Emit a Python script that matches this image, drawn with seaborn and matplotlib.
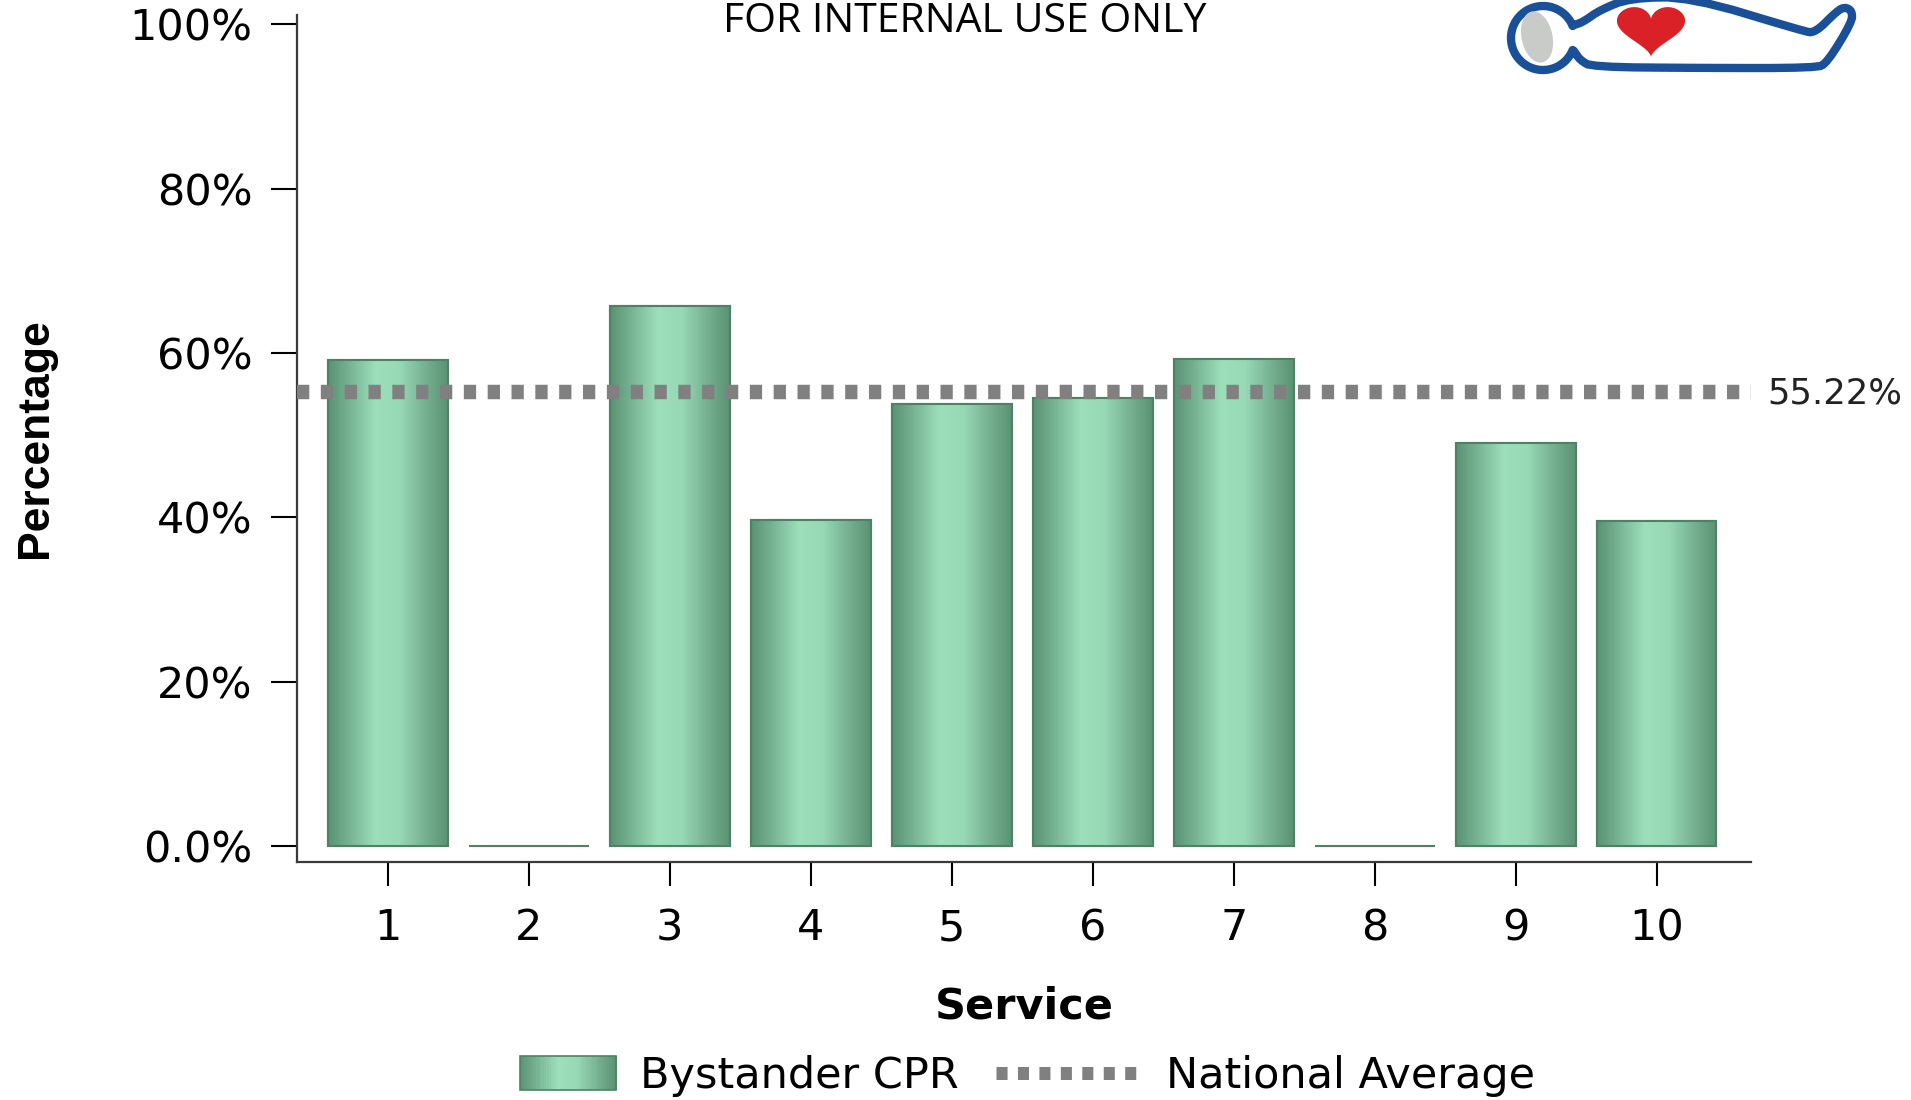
import numpy as np
import pandas as pd
import matplotlib
matplotlib.use("Agg")
import matplotlib.pyplot as plt
import seaborn as sns
from matplotlib.colors import LinearSegmentedColormap
from matplotlib.patches import Rectangle, Ellipse, PathPatch
from matplotlib.path import Path
from matplotlib.lines import Line2D
from matplotlib.legend_handler import HandlerBase

# ---------------- data ----------------
services = ["1", "2", "3", "4", "5", "6", "7", "8", "9", "10"]
bystander_cpr = [59.1, 0.0, 65.7, 39.7, 53.8, 54.5, 59.3, 0.0, 49.0, 39.6]
national_average = 55.22
national_label = "55.22%"
y_ticks = [0, 20, 40, 60, 80, 100]
y_tick_labels = ["0.0%", "20%", "40%", "60%", "80%", "100%"]
series_names = ["Bystander CPR", "National Average"]
x_title = "Service"
y_title = "Percentage"
banner = "FOR INTERNAL USE ONLY"

# ---------------- style ----------------
sns.set_theme(style="white")
plt.rcParams["font.family"] = ["DejaVu Sans"]
plt.rcParams["text.color"] = "black"

BAR_EDGE = "#4f8265"
BAR_MID = "#86c9a5"
LINE_GREY = "#808080"
grad_cmap = LinearSegmentedColormap.from_list(
    "bar_grad",
    [(0.0, "#5a9274"), (0.15, "#72ae8e"), (0.40, "#9ddfbb"),
     (0.60, "#97d8b5"), (0.85, "#70aa8b"), (1.0, "#5a9274")])

W, H = 1911, 1100
fig = plt.figure(figsize=(W / 100, H / 100), dpi=100)

# overlay for logo (decoration)
deco = fig.add_axes([0, 0, 1, 1], zorder=0)
deco.set_xlim(0, W)
deco.set_ylim(H, 0)
deco.axis("off")

ax = fig.add_axes([297 / W, 1 - 861.6 / H, (1751 - 297) / W, (861.6 - 14.6) / H], zorder=1)
ax.patch.set_alpha(0)

df = pd.DataFrame({"Service": services, "Percentage": bystander_cpr})
sns.barplot(data=df, x="Service", y="Percentage", color=BAR_MID, saturation=1,
            width=0.85, edgecolor=BAR_EDGE, linewidth=1.5, errorbar=None, ax=ax)

grad = np.linspace(0, 1, 256).reshape(1, -1)
for p in list(ax.patches):
    x0, y0 = p.get_x(), p.get_y()
    w, h = p.get_width(), p.get_height()
    if h <= 0:
        continue
    im = ax.imshow(grad, cmap=grad_cmap, extent=[x0, x0 + w, y0, y0 + h],
                   aspect="auto", origin="lower", interpolation="bicubic",
                   zorder=p.get_zorder() + 0.1)
    im.set_clip_path(p)
    ax.add_patch(Rectangle((x0, y0), w, h, fill=False, edgecolor=BAR_EDGE,
                           lw=1.5, zorder=p.get_zorder() + 0.2))

# national average line
LW = 10.4
ax.axhline(national_average, color=LINE_GREY, lw=LW, dashes=(0.85, 0.8),
           dash_capstyle="butt", zorder=5)
ax.text(1.011, national_average - 0.2, national_label,
        transform=ax.get_yaxis_transform(), ha="left", va="center",
        fontsize=25.5, color="#222222", clip_on=False)

ax.set_xlim(-0.645, 9.67)
ax.set_ylim(-1.92, 101.2)
ax.set_yticks(y_ticks)
ax.set_yticklabels(y_tick_labels)

for s in ["top", "right"]:
    ax.spines[s].set_visible(False)
for s in ["left", "bottom"]:
    ax.spines[s].set_color("#3a3a3a")
    ax.spines[s].set_linewidth(1.6)

ax.tick_params(axis="y", length=19, width=1.5, color="black", pad=13,
               labelsize=31, labelcolor="black", left=True, direction="out")
ax.tick_params(axis="x", length=17.5, width=1.5, color="black", pad=15.5,
               labelsize=31, labelcolor="black", bottom=True, direction="out")

ax.set_xlabel(x_title, fontsize=31, fontweight="bold", color="black")
ax.set_ylabel(y_title, fontsize=32, fontweight="bold", color="black",
              family=["Liberation Sans", "DejaVu Sans"])
ax.xaxis.set_label_coords(0.5, -0.146)
ax.yaxis.set_label_coords(-0.166, 0.5)


# legend
class GradPatchHandler(HandlerBase):
    def create_artists(self, legend, orig_handle, xdescent, ydescent, width,
                       height, fontsize, trans):
        pw = 2.25 * fontsize
        ph = 0.8 * fontsize
        x_start = -xdescent + width - pw
        y_start = -ydescent + (height - ph) / 2
        n = 40
        arts = []
        for i in range(n):
            c = grad_cmap((i + 0.5) / n)
            r = Rectangle((x_start + i * pw / n, y_start), pw / n + 0.3, ph,
                          facecolor=c, edgecolor="none", transform=trans)
            arts.append(r)
        arts.append(Rectangle((x_start, y_start), pw, ph, fill=False,
                              edgecolor=BAR_EDGE, lw=1.2, transform=trans))
        return arts


bar_handle = Rectangle((0, 0), 1, 1, facecolor=BAR_MID)
line_handle = Line2D([0], [0], color=LINE_GREY, lw=LW * 0.9, dashes=(0.85, 0.8),
                     dash_capstyle="butt")
fig.legend([bar_handle, line_handle], series_names,
           handler_map={Rectangle: GradPatchHandler()},
           loc="center left", bbox_to_anchor=(470 / W, 1 - 1076 / H),
           ncol=2, frameon=False, fontsize=31, handlelength=3.4,
           handletextpad=0.55, columnspacing=0.86, borderpad=0,
           borderaxespad=0, labelcolor="black")

# banner
fig.text(965 / W, 1 - 32 / H, banner, ha="center", va="baseline",
         fontsize=29.5, family=["Open Sans", "DejaVu Sans"], color="black")

# ---------------- logo (decoration) ----------------
BLUE = "#1a5098"


def chaikin(pts, n=2):
    pts = np.asarray(pts, float)
    for _ in range(n):
        q = 0.75 * pts[:-1] + 0.25 * pts[1:]
        r = 0.25 * pts[:-1] + 0.75 * pts[1:]
        new = np.empty((2 * len(q), 2))
        new[0::2] = q
        new[1::2] = r
        pts = np.vstack([pts[:1], new, pts[-1:]])
    return pts


a = np.radians(np.linspace(-22, -338, 80))
head = np.column_stack([1543 + 32 * np.cos(a), 38 + 32 * np.sin(a)])
body_pts = [(1574, 51), (1580, 60), (1592, 67), (1700, 68), (1816, 68),
            (1827, 63), (1852, 22), (1852, 11), (1845, 7), (1837, 11),
            (1815, 33), (1803, 31), (1690, -3), (1630, -2), (1600, 10),
            (1583, 22), (1574, 25)]
body = chaikin(body_pts, 2)
outline = np.vstack([head, body])
deco.add_patch(PathPatch(Path(outline, closed=False), facecolor="white",
                         edgecolor=BLUE, lw=6.0, joinstyle="round",
                         capstyle="round"))
deco.add_patch(Ellipse((1537, 37), 31, 52, angle=-12, facecolor="#c9cbc8",
                       edgecolor="none"))
t = np.linspace(0, 2 * np.pi, 200)
hxx = 16 * np.sin(t) ** 3
hyy = 13 * np.cos(t) - 5 * np.cos(2 * t) - 2 * np.cos(3 * t) - np.cos(4 * t)
heart = Path(np.column_stack([1651 + 2.13 * hxx, 32 - 1.72 * (hyy + 2.55)]),
             closed=True)
deco.add_patch(PathPatch(heart, facecolor="#da2128", edgecolor="none"))

fig.savefig("out.png", dpi=100, facecolor="white")
